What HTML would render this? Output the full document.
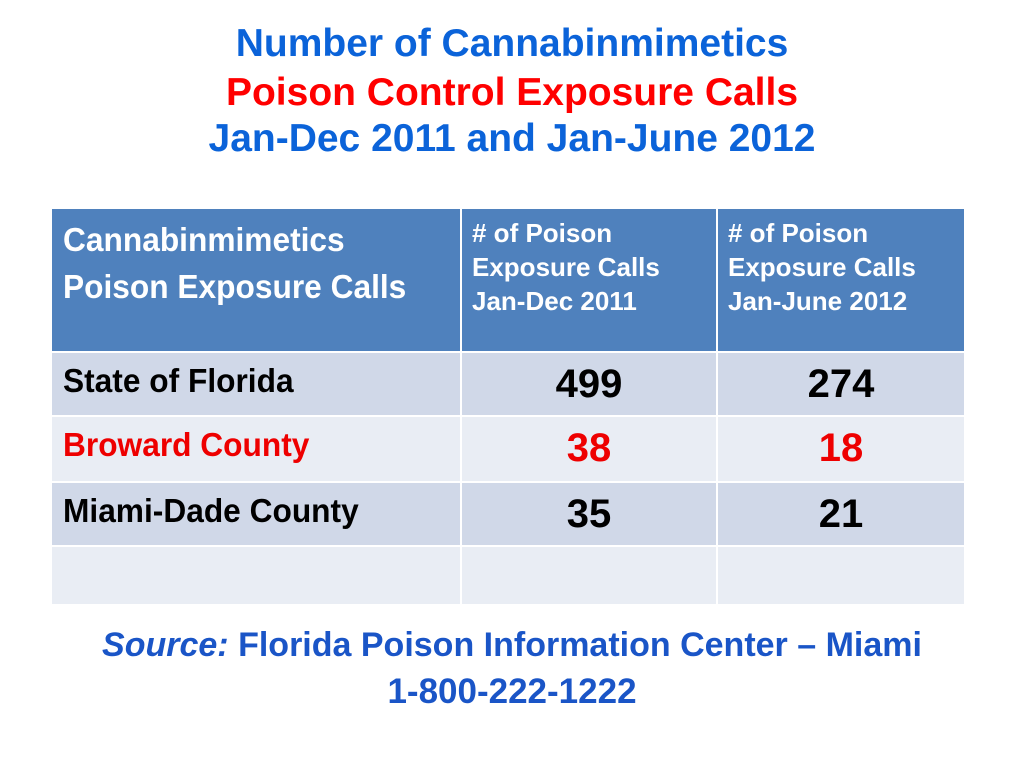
<!DOCTYPE html>
<html><head><meta charset="utf-8"><style>
body{margin:0;width:1024px;height:768px;background:#fff;position:relative;overflow:hidden;font-family:"Liberation Sans",sans-serif}
.t{position:absolute;left:0;width:1024px;text-align:center;font-weight:bold;font-size:39px;line-height:45px;color:#0b63d9;white-space:nowrap}
.cell{position:absolute;box-sizing:border-box}
.hdr{background:#4f81bd;color:#fff}
.rowtxt{position:absolute;font-size:33px;font-weight:bold;color:#000;white-space:nowrap;transform-origin:left center;transform:scaleX(0.96)}
.num{position:absolute;font-size:40px;font-weight:bold;text-align:center}
</style></head><body>
<div class="t" style="top:21px">Number of Cannabinmimetics</div>
<div class="t" style="top:70px;color:#f00">Poison Control Exposure Calls</div>
<div class="t" style="top:116px">Jan-Dec 2011 and Jan-June 2012</div>

<div id="table">
<div class="cell hdr" style="left:52px;top:209px;width:408px;height:142px">
<div class="rowtxt" style="left:11px;top:7px;color:#fff;line-height:47px">Cannabinmimetics<br>Poison Exposure Calls</div></div>
<div class="cell hdr" style="left:462px;top:209px;width:254px;height:142px;padding:7px 0 0 10px;font-size:26px;font-weight:bold;line-height:34px;white-space:nowrap">#&nbsp;of Poison<br>Exposure Calls<br>Jan-Dec 2011</div>
<div class="cell hdr" style="left:718px;top:209px;width:246px;height:142px;padding:7px 0 0 10px;font-size:26px;font-weight:bold;line-height:34px;white-space:nowrap">#&nbsp;of Poison<br>Exposure Calls<br>Jan-June 2012</div>
</div>

<div class="t" style="top:625px;font-size:34px;line-height:40px;color:#1a55c7"><i>Source:</i> Florida Poison Information Center – Miami</div>
<div class="t" style="top:672px;font-size:35px;line-height:40px;color:#1a55c7">1-800-222-1222</div>

<script>
const regions=["State of Florida","Broward County","Miami-Dade County",""];
const calls2011=["499","38","35",""];
const calls2012=["274","18","21",""];
const regionColors=["#000","#e00","#000","#000"];
const tops=[353,417,483,547], heights=[62,64,62,57];
const bgs=["#d0d8e8","#e9edf4","#d0d8e8","#e9edf4"];
const tbl=document.getElementById('table');
const cols=[[52,408],[462,254],[718,246]];
regions.forEach((r,i)=>{
  cols.forEach((c,j)=>{
    const d=document.createElement('div');
    d.className='cell';
    
    
    d.style.cssText=`left:${c[0]}px;top:${tops[i]}px;width:${c[1]}px;height:${heights[i]}px;background:${bgs[i]}`;
    if(j===0){
      const s=document.createElement('div');
      s.className='rowtxt';
      
      
      s.style.cssText=`left:11px;top:9px;color:${regionColors[i]}`;
      s.textContent=r;
      d.appendChild(s);
    } else {
      const s=document.createElement('div');
      s.className='num';
      
      
      s.style.cssText=`left:0;width:${c[1]}px;top:9px;color:${regionColors[i]}`;
      s.textContent=(j===1?calls2011:calls2012)[i];
      d.appendChild(s);
    }
    tbl.appendChild(d);
  });
});
</script>
</body></html>
